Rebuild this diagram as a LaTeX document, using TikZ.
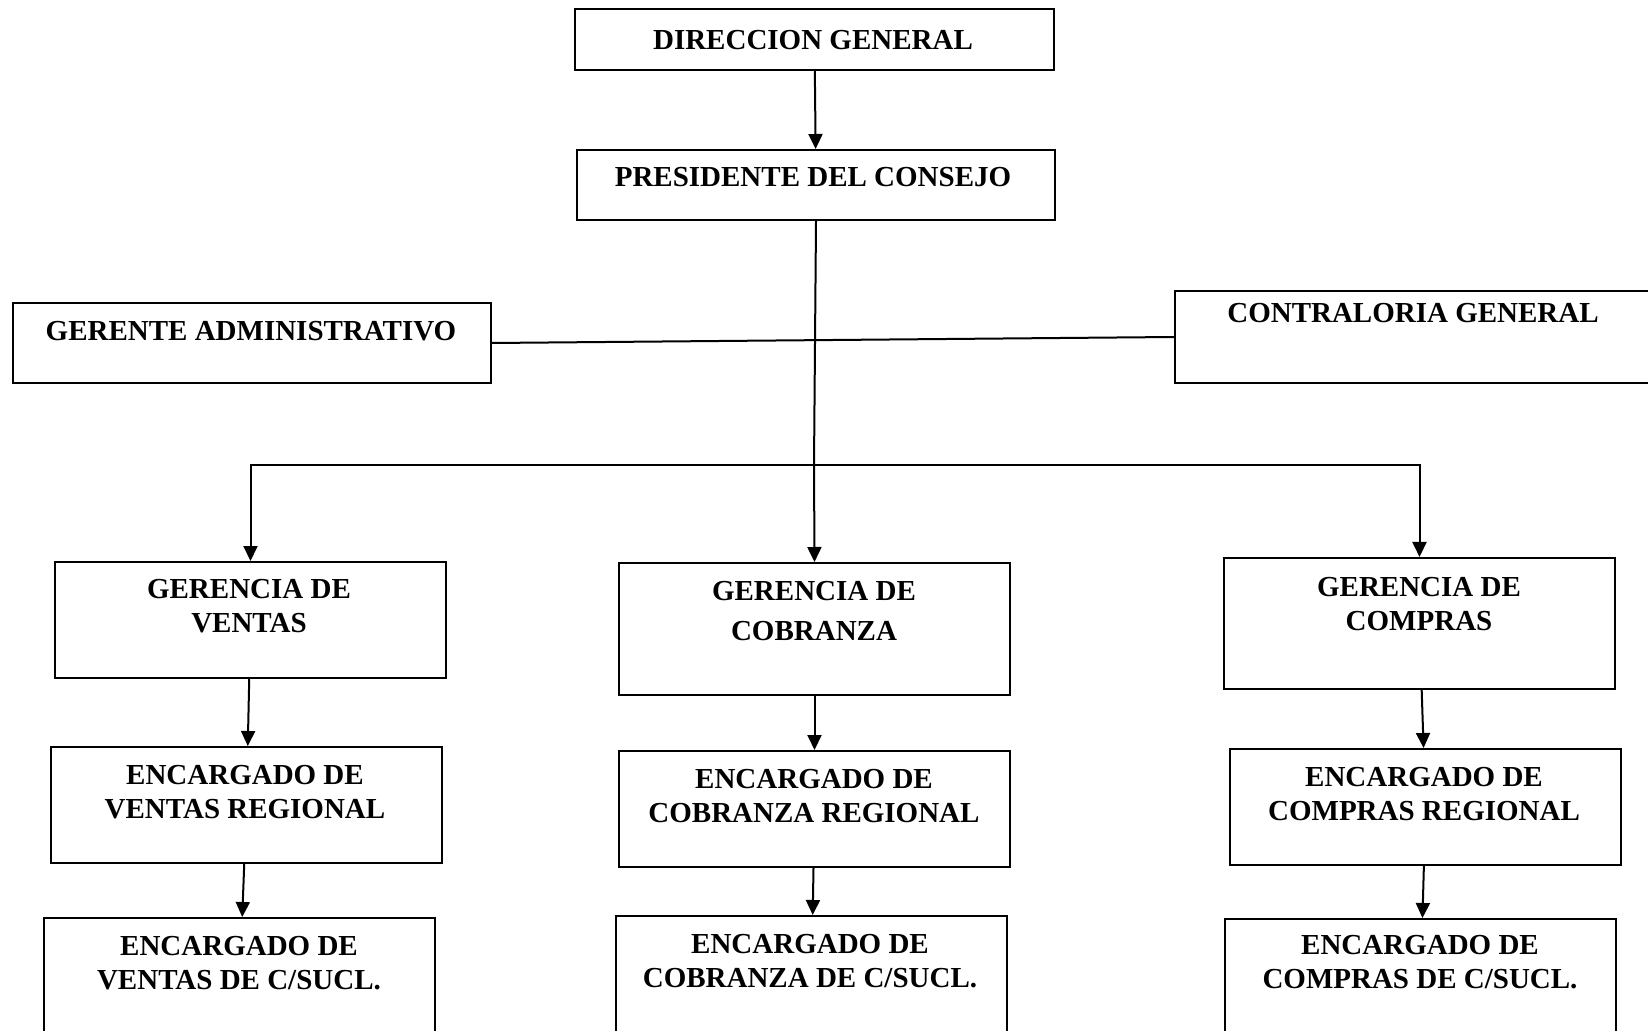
\documentclass[tikz,border=0pt]{standalone}
\usepackage{fontspec}
\setmainfont{Liberation Serif}
\usetikzlibrary{arrows.meta,positioning}

\begin{document}
\begin{tikzpicture}[x=0.5pt,y=-0.5pt,
    box/.style={draw,line width=1pt,anchor=north west,inner sep=0pt},
    txt/.style={align=center,inner sep=0pt,font=\fontsize{14.5pt}{17pt}\selectfont\bfseries},
    flecha/.style={-{Triangle[width=7pt,length=7.5pt]},line width=1pt}]

  \useasboundingbox (0,0) rectangle (1648,1031);

  %upper boxes
  \foreach \x/\y/\w/\h/\name in {574/8/479/61/dir,576/149/478/70/pres,12/302/478/80/adm,1174/290/480/92/con}{
      \node[box,minimum width=\w*0.5pt,minimum height=\h*0.5pt] (\name) at (\x,\y) {};
  }

  %gerencias / encargados
  \foreach \x/\y/\h/\name in {54/561/116/ven,618/562/132/cob,1223/557/131/com,50/746/116/venR,618/750/116/cobR,1229/748/116/comR,43/917/140/venS,615/915/140/cobS,1224/918/140/comS}{
      \node[box,minimum width=195.5pt,minimum height=\h*0.5pt] (\name) at (\x,\y) {};
  }

  %texts
  \foreach \x/\y/\txt/\name in {813/40/{DIRECCION GENERAL}/tdir,813/177/{PRESIDENTE DEL CONSEJO}/tpres,251/331/{GERENTE ADMINISTRATIVO}/tadm,1413/313/{CONTRALORIA GENERAL}/tcon,
      249/606/{GERENCIA DE\\VENTAS}/tven,814/611/{GERENCIA DE\\[3pt]COBRANZA}/tcob,1419/604/{GERENCIA DE\\COMPRAS}/tcom,
      245/792/{ENCARGADO DE\\VENTAS REGIONAL}/tvenR,814/796/{ENCARGADO DE\\COBRANZA REGIONAL}/tcobR,1424/794/{ENCARGADO DE\\COMPRAS REGIONAL}/tcomR,
      239/963/{ENCARGADO DE\\VENTAS DE C/SUCL.}/tvenS,810/961/{ENCARGADO DE\\COBRANZA DE C/SUCL.}/tcobS,1420/962/{ENCARGADO DE\\COMPRAS DE C/SUCL.}/tcomS}{
      \node[txt] (\name) at (\x,\y) {\txt};
  }

  %lines
  \coordinate (hub) at (814,465);
  \draw[flecha] (dir) -- (pres);
  \draw[line width=1pt] (pres.south) -- (hub);
  \draw[line width=1pt] (adm.east) -- (con.west);
  \draw[flecha] (hub) -| (ven.north);
  \draw[flecha] (hub) -- (cob.north);
  \draw[flecha] (hub) -| (com.north);
  \foreach \a/\b in {ven/venR,venR/venS,cob/cobR,cobR/cobS,com/comR,comR/comS}
      \draw[flecha] (\a) -- (\b);

\end{tikzpicture}
\end{document}
